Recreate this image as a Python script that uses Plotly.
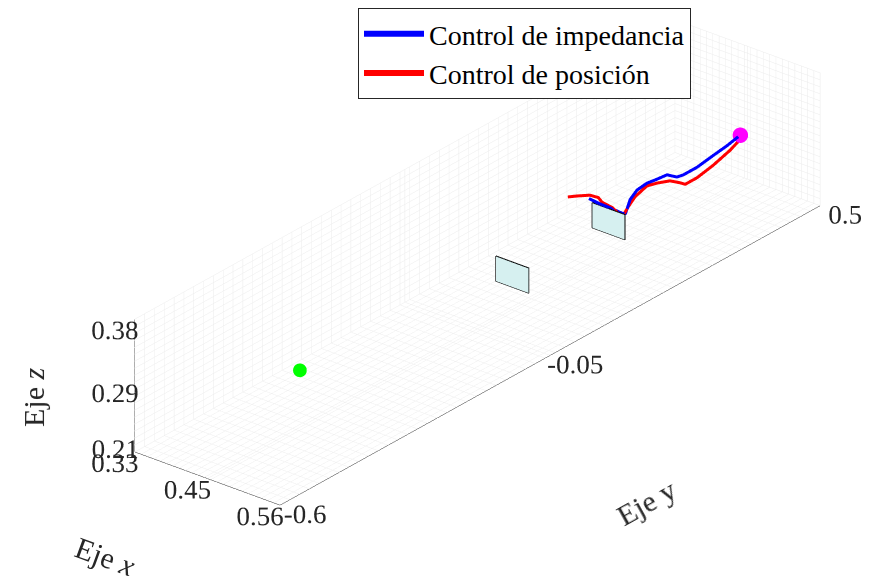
import numpy as np
import plotly.graph_objects as go

# ---------------- data ----------------
x_path = 0.445  # trajectories lie near the centre plane in x

imp_y = [0.177, 0.196, 0.214, 0.244, 0.251, 0.261, 0.275, 0.295, 0.312, 0.336,
         0.356, 0.369, 0.397, 0.430, 0.458, 0.481]
imp_z = [0.288, 0.274, 0.262, 0.241, 0.237, 0.254, 0.262, 0.264, 0.262, 0.260,
         0.249, 0.247, 0.247, 0.251, 0.254, 0.258]

pos_y = [0.134, 0.153, 0.179, 0.196, 0.204, 0.224, 0.240, 0.246, 0.257, 0.271,
         0.295, 0.316, 0.342, 0.363, 0.373, 0.397, 0.430, 0.464, 0.489]
pos_z = [0.307, 0.301, 0.292, 0.282, 0.272, 0.257, 0.240, 0.236, 0.245, 0.254,
         0.260, 0.256, 0.249, 0.238, 0.232, 0.232, 0.237, 0.245, 0.254]

start_pt = (0.445, -0.412, 0.272)   # green
end_pt = (0.445, 0.485, 0.259)      # magenta

plane_y = [0.021, 0.217]
plane_x = [0.419, 0.471]
plane_z = [0.222, 0.258]

x_range = [0.33, 0.56]
y_range = [-0.6, 0.5]
z_range = [0.19, 0.38]
x_ticks = [0.33, 0.445, 0.56]
x_ticktext = ["0.33", "0.45", "0.56"]
y_ticks = [-0.6, -0.05, 0.5]
y_ticktext = ["-0.6", "-0.05", "0.5"]
z_ticks = [0.21, 0.29, 0.38]
z_ticktext = ["0.21", "0.29", "0.38"]
x_minor_step = 0.01
y_minor_step = 0.02
z_minor_step = 0.01

FONT = "Liberation Serif"
TXT = "rgb(38,38,38)"


def grid_ticks(rng, step, major, major_text):
    """major ticks with labels plus unlabeled minor grid positions"""
    vals = list(major)
    texts = list(major_text)
    for v in np.arange(rng[0], rng[1] + 1e-9, step):
        v = round(float(v), 4)
        if all(abs(v - m) > step * 0.3 for m in major):
            vals.append(v)
            texts.append("")
    return vals, texts


fig = go.Figure()

# planes
for py in plane_y:
    xs = [plane_x[0], plane_x[1], plane_x[1], plane_x[0]]
    zs = [plane_z[1], plane_z[1], plane_z[0], plane_z[0]]
    fig.add_trace(go.Mesh3d(x=xs, y=[py] * 4, z=zs, i=[0, 0], j=[1, 2], k=[2, 3],
                            color="rgb(214,240,240)", opacity=1.0, flatshading=True,
                            lighting=dict(ambient=1, diffuse=0, specular=0, roughness=1, fresnel=0),
                            showlegend=False, hoverinfo="skip"))
    fig.add_trace(go.Scatter3d(x=xs + [xs[0]], y=[py] * 5, z=zs + [zs[0]], mode="lines",
                               line=dict(color="black", width=2), showlegend=False,
                               hoverinfo="skip"))

fig.add_trace(go.Scatter3d(x=[x_path] * len(imp_y), y=imp_y, z=imp_z, mode="lines",
                           line=dict(color="rgb(0,0,255)", width=6),
                           name="Control de impedancia"))
fig.add_trace(go.Scatter3d(x=[x_path] * len(pos_y), y=pos_y, z=pos_z, mode="lines",
                           line=dict(color="rgb(255,0,0)", width=6),
                           name="Control de posición"))

fig.add_trace(go.Scatter3d(x=[start_pt[0]], y=[start_pt[1]], z=[start_pt[2]], mode="markers",
                           marker=dict(color="rgb(0,255,0)", size=8), showlegend=False))
fig.add_trace(go.Scatter3d(x=[end_pt[0]], y=[end_pt[1]], z=[end_pt[2]], mode="markers",
                           marker=dict(color="rgb(255,0,255)", size=9), showlegend=False))


def ax(rng, tv, tt, step):
    vals, texts = grid_ticks(rng, step, tv, tt)
    return dict(range=rng, tickmode="array", tickvals=vals, ticktext=texts, showbackground=False,
                gridcolor="rgb(235,235,235)", gridwidth=1, showline=True,
                linecolor="rgb(40,40,40)", linewidth=1, zeroline=False,
                ticks="outside", ticklen=14, tickcolor="white", tickwidth=1, tickangle=0,
                showspikes=False, title=dict(text=""),
                tickfont=dict(family=FONT, size=18, color=TXT))


k = 1.633
ar = (0.40 * k, 1.83 * k, 0.318 * k)
d = (0.5632, -0.6927, 0.4509)
r = 2.0
cam_center = (0.0348, -0.0428, -0.1093)

fig.update_layout(
    width=886, height=576, margin=dict(l=0, r=0, t=0, b=0),
    paper_bgcolor="white",
    font=dict(family=FONT, color="black"),
    scene=dict(
        domain=dict(x=[0.0683, 0.9903], y=[0.0, 1.0]),
        xaxis=ax(x_range, x_ticks, x_ticktext, x_minor_step),
        yaxis=ax(y_range, y_ticks, y_ticktext, y_minor_step),
        zaxis=ax(z_range, z_ticks, z_ticktext, z_minor_step),
        aspectmode="manual",
        aspectratio=dict(x=ar[0], y=ar[1], z=ar[2]),
        camera=dict(eye=dict(x=d[0] * r + cam_center[0], y=d[1] * r + cam_center[1],
                             z=d[2] * r + cam_center[2]),
                    center=dict(x=cam_center[0], y=cam_center[1], z=cam_center[2]),
                    up=dict(x=0, y=0, z=1),
                    projection=dict(type="orthographic")),
    ),
    legend=dict(x=350 / 886, y=1 + 3 / 576, xanchor="left", yanchor="top",
                bordercolor="rgb(38,38,38)", borderwidth=1, bgcolor="white", itemwidth=60,
                font=dict(family=FONT, size=28, color="black"), tracegroupgap=0),
    showlegend=True,
    hovermode=False,
    annotations=[
        dict(text="Eje <i>z</i>", x=26 / 886, y=1 - 389 / 576, xref="paper", yref="paper",
             xanchor="center", yanchor="middle",
             showarrow=False, textangle=-90, font=dict(family=FONT, size=30, color=TXT)),
        dict(text="Eje y", x=638 / 886, y=1 - 494 / 576, xref="paper", yref="paper",
             xanchor="center", yanchor="middle",
             showarrow=False, textangle=-29, font=dict(family=FONT, size=30, color=TXT)),
        dict(text="Eje <i>x</i>", x=97 / 886, y=1 - 548 / 576, xref="paper", yref="paper",
             xanchor="center", yanchor="middle",
             showarrow=False, textangle=20, font=dict(family=FONT, size=30, color=TXT)),
    ],
)

fig.write_html("out.html")
